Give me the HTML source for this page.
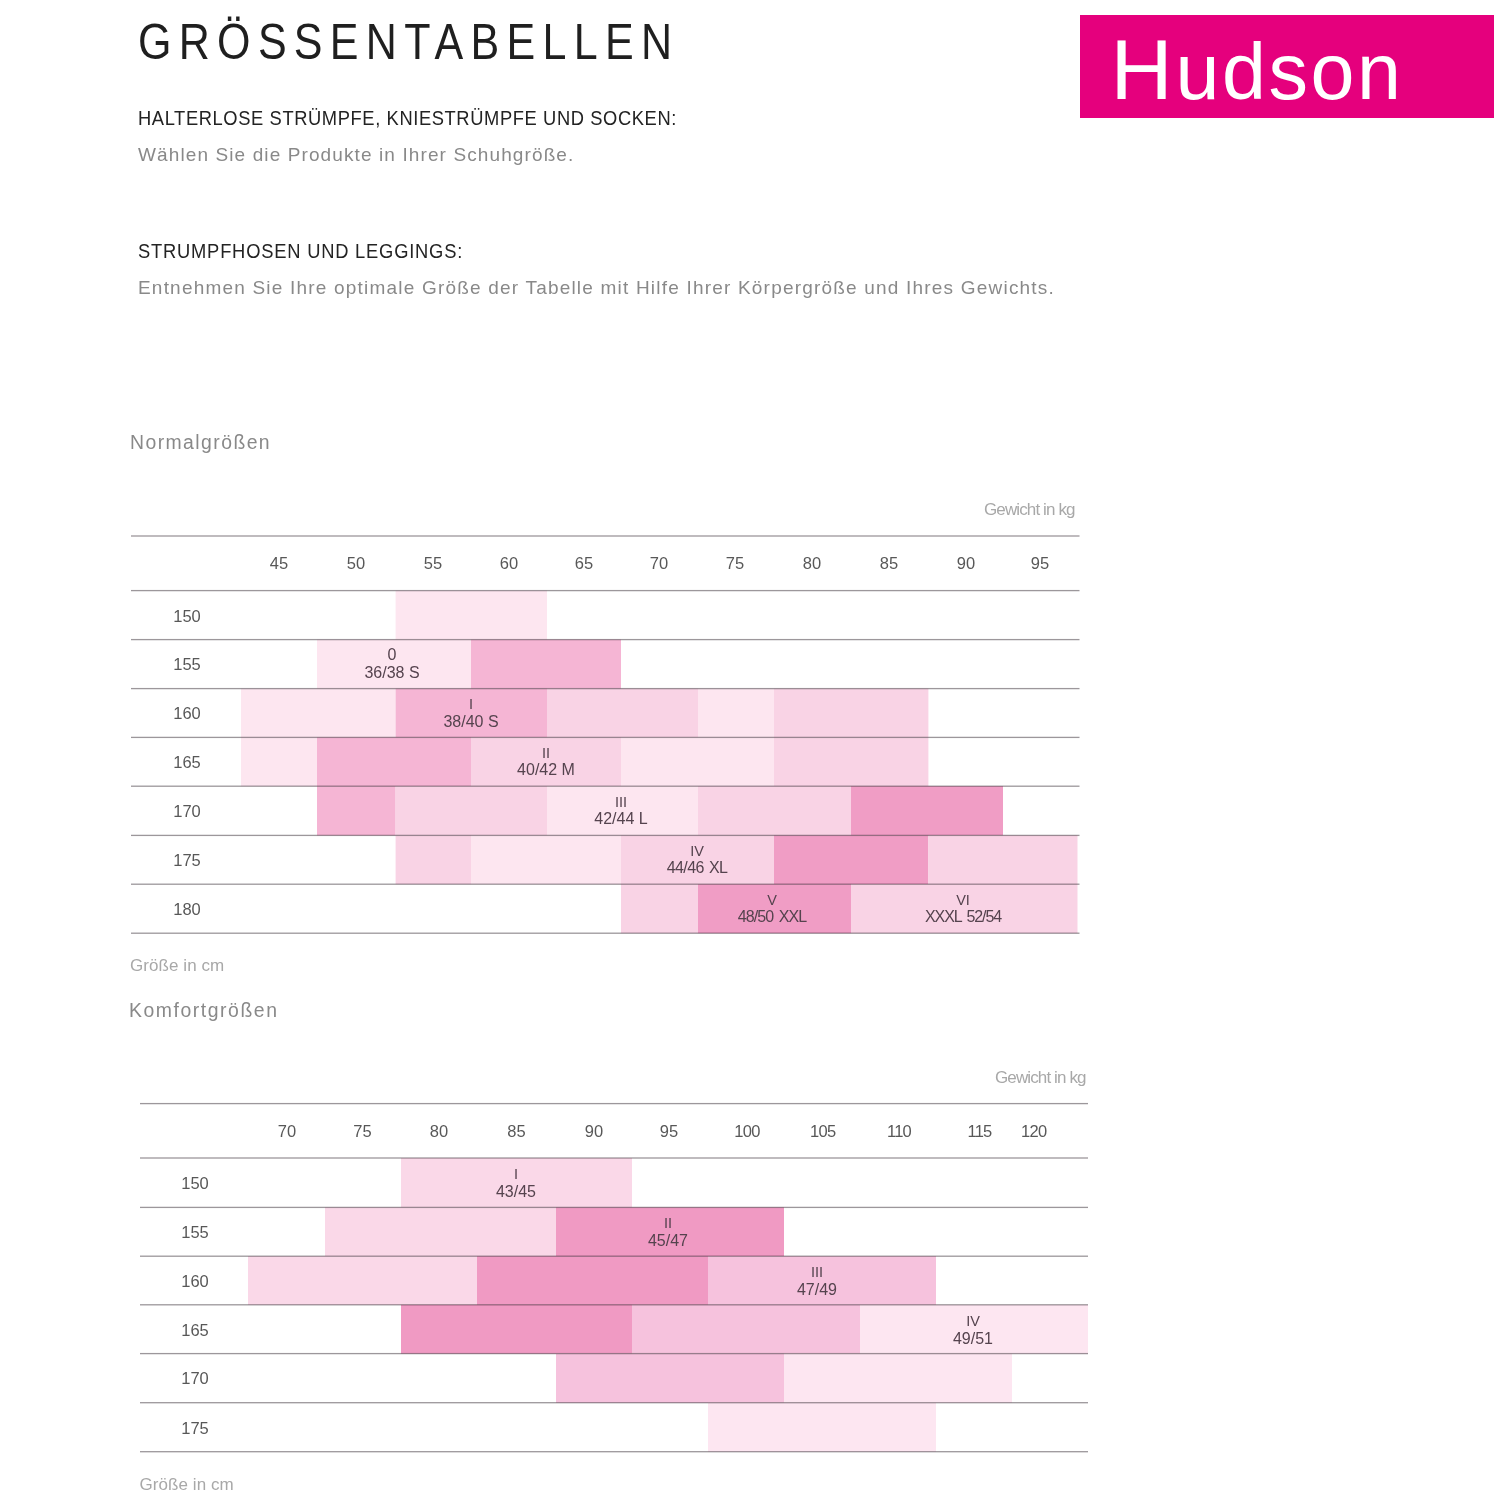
<!DOCTYPE html>
<html lang="de"><head><meta charset="utf-8"><title>Größentabellen</title>
<style>
html,body{margin:0;padding:0;background:#fff}
body{width:1500px;height:1500px;position:relative;overflow:hidden;font-family:"Liberation Sans",sans-serif}
.a{position:absolute;white-space:nowrap;line-height:1}
.c{position:absolute}
.ln{position:absolute;height:1.6px;background:#8e8a8e}
.t{position:absolute;white-space:nowrap;text-align:center;color:#585858}
.h{width:80px;font-size:16.5px;line-height:1}
.r{width:80px;font-size:16.5px;line-height:1}
.s{width:120px;font-size:16px;line-height:1;color:#55434e}
#logo{position:absolute;left:1080px;top:15px;width:414px;height:103px;background:#e5007d}
#logo span{position:absolute;left:30.5px;top:10.50px;color:#fff;font-size:86px;line-height:1;letter-spacing:-1px;white-space:nowrap}
#logo b{font-weight:normal;font-size:79px;letter-spacing:2.5px;margin-left:4px}
.sh{font-size:18.5px;color:#222;letter-spacing:.6px}
.g{font-size:18.5px;color:#8a8a8a;letter-spacing:.6px}
.sec{font-size:19px;color:#8a8a8a;letter-spacing:.6px}
.ax{font-size:16px;color:#a3a3a3}
</style></head><body>
<div id="logo"><span>H<b>udson</b></span></div>
<div class="a" style="left:138px;top:16.57px;font-size:50px;letter-spacing:8.5px;color:#1f1f1f;transform:scaleX(.86);transform-origin:0 0;">GRÖSSENTABELLEN</div>
<div class="a" style="left:138.3px;top:108.66px;font-size:19.3px;letter-spacing:0.64px;color:#232323;transform:scaleX(.95);transform-origin:0 0;">HALTERLOSE STRÜMPFE, KNIESTRÜMPFE UND SOCKEN:</div>
<div class="a" style="left:138px;top:144.92px;font-size:19px;letter-spacing:1.11px;color:#898989;">Wählen Sie die Produkte in Ihrer Schuhgröße.</div>
<div class="a" style="left:138.3px;top:241.66px;font-size:19.3px;letter-spacing:0.84px;color:#232323;transform:scaleX(.95);transform-origin:0 0;">STRUMPFHOSEN UND LEGGINGS:</div>
<div class="a" style="left:138px;top:278.32px;font-size:19px;letter-spacing:1.2px;color:#898989;">Entnehmen Sie Ihre optimale Größe der Tabelle mit Hilfe Ihrer Körpergröße und Ihres Gewichts.</div>
<div class="a" style="left:130px;top:432.58px;font-size:19.4px;letter-spacing:1.43px;color:#898989;">Normalgrößen</div>
<div class="a" style="left:984px;top:501.01px;font-size:17px;letter-spacing:-0.88px;color:#a8a8a8;">Gewicht in kg</div>
<div class="a" style="left:130px;top:956.61px;font-size:17px;letter-spacing:0.07px;color:#a8a8a8;">Größe in cm</div>
<div class="a" style="left:129px;top:1000.58px;font-size:19.4px;letter-spacing:1.55px;color:#898989;">Komfortgrößen</div>
<div class="a" style="left:995px;top:1069.01px;font-size:17px;letter-spacing:-0.88px;color:#a8a8a8;">Gewicht in kg</div>
<div class="a" style="left:139.5px;top:1475.61px;font-size:17px;letter-spacing:0.07px;color:#a8a8a8;">Größe in cm</div>
<svg class="c" style="left:0;top:0" width="1500" height="1500" viewBox="0 0 1500 1500">
<rect x="395.6" y="590.6" width="151.4" height="49.0" fill="#fde6f0"/>
<rect x="317" y="639.6" width="154.0" height="49.0" fill="#fde6f0"/>
<rect x="471" y="639.6" width="150.0" height="49.0" fill="#f5b5d4"/>
<rect x="241" y="688.6" width="154.6" height="48.8" fill="#fde6f0"/>
<rect x="395.6" y="688.6" width="151.4" height="48.8" fill="#f5b5d4"/>
<rect x="547" y="688.6" width="151.0" height="48.8" fill="#f9d3e5"/>
<rect x="698" y="688.6" width="76.0" height="48.8" fill="#fde6f0"/>
<rect x="774" y="688.6" width="154.4" height="48.8" fill="#f9d3e5"/>
<rect x="241" y="737.4" width="76.0" height="48.8" fill="#fde6f0"/>
<rect x="317" y="737.4" width="154.0" height="48.8" fill="#f5b5d4"/>
<rect x="471" y="737.4" width="150.0" height="48.8" fill="#f9d3e5"/>
<rect x="621" y="737.4" width="153.0" height="48.8" fill="#fde6f0"/>
<rect x="774" y="737.4" width="154.4" height="48.8" fill="#f9d3e5"/>
<rect x="317" y="786.2" width="78.6" height="49.2" fill="#f5b5d4"/>
<rect x="395.6" y="786.2" width="151.4" height="49.2" fill="#f9d3e5"/>
<rect x="547" y="786.2" width="151.0" height="49.2" fill="#fde6f0"/>
<rect x="698" y="786.2" width="153.0" height="49.2" fill="#f9d3e5"/>
<rect x="851" y="786.2" width="152.0" height="49.2" fill="#f09dc5"/>
<rect x="395.6" y="835.4" width="75.4" height="48.8" fill="#f9d3e5"/>
<rect x="471" y="835.4" width="150.0" height="48.8" fill="#fde6f0"/>
<rect x="621" y="835.4" width="153.0" height="48.8" fill="#f9d3e5"/>
<rect x="774" y="835.4" width="154.4" height="48.8" fill="#f09dc5"/>
<rect x="928.4" y="835.4" width="149.1" height="48.8" fill="#f9d3e5"/>
<rect x="621" y="884.2" width="77.0" height="49.0" fill="#f9d3e5"/>
<rect x="698" y="884.2" width="153.0" height="49.0" fill="#f09dc5"/>
<rect x="851" y="884.2" width="226.5" height="49.0" fill="#f9d3e5"/>
<rect x="131" y="535.35" width="948.5" height="1.3" fill="#1a0f18" fill-opacity="0.43"/>
<rect x="131" y="589.95" width="948.5" height="1.3" fill="#1a0f18" fill-opacity="0.43"/>
<rect x="131" y="638.95" width="948.5" height="1.3" fill="#1a0f18" fill-opacity="0.43"/>
<rect x="131" y="687.95" width="948.5" height="1.3" fill="#1a0f18" fill-opacity="0.43"/>
<rect x="131" y="736.75" width="948.5" height="1.3" fill="#1a0f18" fill-opacity="0.43"/>
<rect x="131" y="785.55" width="948.5" height="1.3" fill="#1a0f18" fill-opacity="0.43"/>
<rect x="131" y="834.75" width="948.5" height="1.3" fill="#1a0f18" fill-opacity="0.43"/>
<rect x="131" y="883.55" width="948.5" height="1.3" fill="#1a0f18" fill-opacity="0.43"/>
<rect x="131" y="932.55" width="948.5" height="1.3" fill="#1a0f18" fill-opacity="0.43"/>
<rect x="401" y="1158" width="231.0" height="49.4" fill="#fad8e8"/>
<rect x="325" y="1207.4" width="231.0" height="48.8" fill="#fad8e8"/>
<rect x="556" y="1207.4" width="228.0" height="48.8" fill="#f09ac3"/>
<rect x="248" y="1256.2" width="229.0" height="48.6" fill="#fad8e8"/>
<rect x="477" y="1256.2" width="231.0" height="48.6" fill="#f09ac3"/>
<rect x="708" y="1256.2" width="228.0" height="48.6" fill="#f6c2dd"/>
<rect x="401" y="1304.8" width="231.0" height="48.8" fill="#f09ac3"/>
<rect x="632" y="1304.8" width="228.0" height="48.8" fill="#f6c2dd"/>
<rect x="860" y="1304.8" width="228.0" height="48.8" fill="#fde6f1"/>
<rect x="556" y="1353.6" width="228.0" height="49.1" fill="#f6c2dd"/>
<rect x="784" y="1353.6" width="228.0" height="49.1" fill="#fde6f1"/>
<rect x="708" y="1402.7" width="228.0" height="49.0" fill="#fde6f1"/>
<rect x="140" y="1102.95" width="948" height="1.3" fill="#1a0f18" fill-opacity="0.43"/>
<rect x="140" y="1157.35" width="948" height="1.3" fill="#1a0f18" fill-opacity="0.43"/>
<rect x="140" y="1206.75" width="948" height="1.3" fill="#1a0f18" fill-opacity="0.43"/>
<rect x="140" y="1255.55" width="948" height="1.3" fill="#1a0f18" fill-opacity="0.43"/>
<rect x="140" y="1304.15" width="948" height="1.3" fill="#1a0f18" fill-opacity="0.43"/>
<rect x="140" y="1352.95" width="948" height="1.3" fill="#1a0f18" fill-opacity="0.43"/>
<rect x="140" y="1402.05" width="948" height="1.3" fill="#1a0f18" fill-opacity="0.43"/>
<rect x="140" y="1451.05" width="948" height="1.3" fill="#1a0f18" fill-opacity="0.43"/>
</svg>
<div class="t h" style="left:239px;top:555.23px">45</div>
<div class="t h" style="left:316px;top:555.23px">50</div>
<div class="t h" style="left:393px;top:555.23px">55</div>
<div class="t h" style="left:469px;top:555.23px">60</div>
<div class="t h" style="left:544px;top:555.23px">65</div>
<div class="t h" style="left:619px;top:555.23px">70</div>
<div class="t h" style="left:695px;top:555.23px">75</div>
<div class="t h" style="left:772px;top:555.23px">80</div>
<div class="t h" style="left:849px;top:555.23px">85</div>
<div class="t h" style="left:926px;top:555.23px">90</div>
<div class="t h" style="left:1000px;top:555.23px">95</div>
<div class="t r" style="left:147px;top:608.33px">150</div>
<div class="t r" style="left:147px;top:656.43px">155</div>
<div class="t r" style="left:147px;top:705.43px">160</div>
<div class="t r" style="left:147px;top:754.23px">165</div>
<div class="t r" style="left:147px;top:803.03px">170</div>
<div class="t r" style="left:147px;top:852.23px">175</div>
<div class="t r" style="left:147px;top:901.03px">180</div>
<div class="t s" style="left:332px;top:646.86px;font-size:16px">0</div>
<div class="t s" style="left:332px;top:664.56px">36/38 S</div>
<div class="t s" style="left:411px;top:697.13px;font-size:14.5px">I</div>
<div class="t s" style="left:411px;top:713.56px">38/40 S</div>
<div class="t s" style="left:486px;top:745.93px;font-size:14.5px">II</div>
<div class="t s" style="left:486px;top:762.36px">40/42 M</div>
<div class="t s" style="left:561px;top:794.73px;font-size:14.5px">III</div>
<div class="t s" style="left:561px;top:811.16px">42/44 L</div>
<div class="t s" style="left:637px;top:843.93px;font-size:14.5px">IV</div>
<div class="t s" style="left:637px;top:860.36px;letter-spacing:-0.6px;word-spacing:1.3px">44/46 XL</div>
<div class="t s" style="left:712px;top:892.73px;font-size:14.5px">V</div>
<div class="t s" style="left:712px;top:909.16px;letter-spacing:-0.95px;word-spacing:2.1px">48/50 XXL</div>
<div class="t s" style="left:903px;top:892.73px;font-size:14.5px">VI</div>
<div class="t s" style="left:903px;top:909.16px;letter-spacing:-1.15px;word-spacing:2.5px">XXXL 52/54</div>
<div class="t h" style="left:247px;top:1122.83px">70</div>
<div class="t h" style="left:322.5px;top:1122.83px">75</div>
<div class="t h" style="left:399px;top:1122.83px">80</div>
<div class="t h" style="left:476.5px;top:1122.83px">85</div>
<div class="t h" style="left:554px;top:1122.83px">90</div>
<div class="t h" style="left:629px;top:1122.83px">95</div>
<div class="t h" style="left:707px;top:1122.83px;letter-spacing:-0.7px">100</div>
<div class="t h" style="left:782.7px;top:1122.83px;letter-spacing:-0.7px">105</div>
<div class="t h" style="left:859px;top:1122.83px;letter-spacing:-0.7px">110</div>
<div class="t h" style="left:939.5px;top:1122.83px;letter-spacing:-0.7px">115</div>
<div class="t h" style="left:993.8px;top:1122.83px;letter-spacing:-0.7px">120</div>
<div class="t r" style="left:155px;top:1174.83px">150</div>
<div class="t r" style="left:155px;top:1224.23px">155</div>
<div class="t r" style="left:155px;top:1273.03px">160</div>
<div class="t r" style="left:155px;top:1321.63px">165</div>
<div class="t r" style="left:155px;top:1370.43px">170</div>
<div class="t r" style="left:155px;top:1419.53px">175</div>
<div class="t s" style="left:456px;top:1166.93px;font-size:14.5px">I</div>
<div class="t s" style="left:456px;top:1183.96px">43/45</div>
<div class="t s" style="left:608px;top:1216.33px;font-size:14.5px">II</div>
<div class="t s" style="left:608px;top:1233.36px">45/47</div>
<div class="t s" style="left:757px;top:1265.13px;font-size:14.5px">III</div>
<div class="t s" style="left:757px;top:1282.16px">47/49</div>
<div class="t s" style="left:913px;top:1313.73px;font-size:14.5px">IV</div>
<div class="t s" style="left:913px;top:1330.76px">49/51</div>
</body></html>
